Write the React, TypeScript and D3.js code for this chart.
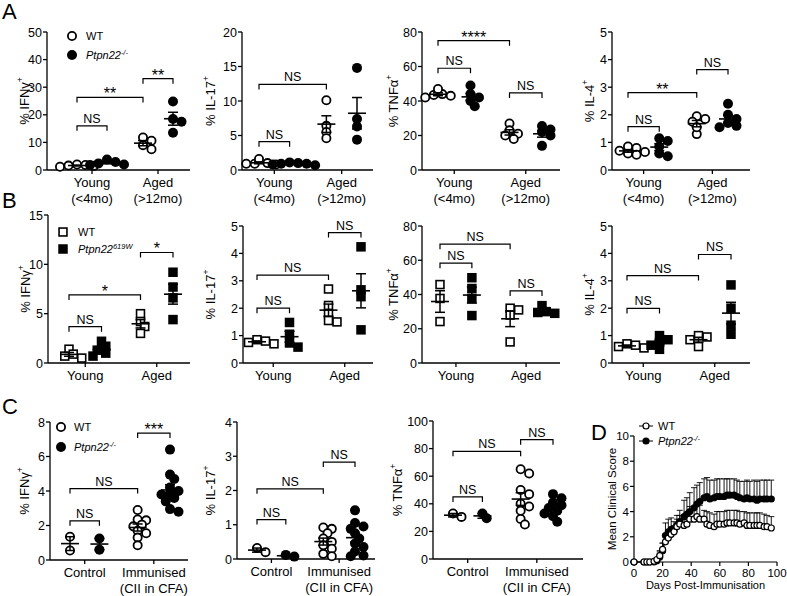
import React from "react";
import * as d3 from "d3";

const FONT = "Arial, 'Liberation Sans', Helvetica, sans-serif";

// ---------- labels ----------
const ageCats = ["Young", "Aged"];
const ageSubs = ["(<4mo)", "(>12mo)"];
const immCats = ["Control", "Immunised"];
const immSubs = ["", "(CII in CFA)"];
const legWT = "WT";
const legKO = "Ptpn22";
const legKOsup = "-/-";
const legPEPsup = "619W";

// ---------- Panel A : [WT young, KO young, WT aged, KO aged] ----------
const aIfng = [[1.2, 1.5, 1.8, 2.0, 1.6], [1.8, 2.0, 2.4, 2.9, 3.8], [11.8, 10.6, 9.0, 7.5], [24.8, 18.5, 17.5, 13.5]];
const aIl17 = [[0.9, 1.0, 0.8, 1.6, 0.9], [0.8, 0.9, 0.7, 1.0, 0.9, 1.1], [10.1, 6.4, 5.5, 4.6], [14.8, 7.4, 6.3, 4.4]];
const aTnfa = [[43.5, 42, 44, 47, 43], [49, 44, 42, 40, 37], [27, 23, 21, 20, 18], [25.5, 23.5, 22, 20, 14]];
const aIl4 = [[0.8, 0.65, 0.6, 0.85, 0.7, 0.55], [1.15, 1.05, 0.85, 0.6, 0.5], [1.95, 1.85, 1.75, 1.3, 1.55], [2.4, 2.0, 1.85, 1.7, 1.6, 1.55]];
const aIfngBr: [number, number, number, string][] = [[0, 1, 16, "NS"], [0, 2, 26.3, "**"], [2, 3, 33.1, "**"]];
const aIl17Br: [number, number, number, string][] = [[0, 1, 4.1, "NS"], [0, 2, 12.4, "NS"]];
const aTnfaBr: [number, number, number, string][] = [[0, 1, 59, "NS"], [0, 2, 75, "****"], [2, 3, 44.7, "NS"]];
const aIl4Br: [number, number, number, string][] = [[0, 1, 1.57, "NS"], [0, 2, 2.8, "**"], [2, 3, 3.64, "NS"]];
const aIfngTicks = [0, 10, 20, 30, 40, 50];
const aIl17Ticks = [0, 5, 10, 15, 20];
const aTnfaTicks = [0, 20, 40, 60, 80];
const aIl4Ticks = [0, 1, 2, 3, 4, 5];

// ---------- Panel B ----------
const bIfng = [[1.4, 0.7, 0.5, 0.9], [2.2, 1.7, 1.3, 1.0, 0.7], [5.0, 4.2, 3.7, 3.0], [9.2, 7.7, 6.6, 4.4]];
const bIl17 = [[0.85, 0.8, 0.7, 0.75], [1.48, 1.05, 0.73, 0.58], [2.7, 2.1, 1.8, 1.55, 1.5], [4.24, 2.67, 2.42, 1.21]];
const bTnfa = [[45.8, 37.7, 24.2], [49.8, 43.5, 37.7, 27.7], [31, 32, 28, 12.3], [33.5, 30, 29, 29.5]];
const bIl4 = [[0.7, 0.6, 0.55, 0.65], [1.0, 0.85, 0.75, 0.65, 0.5], [0.95, 1.0, 0.85, 0.6], [2.85, 2.0, 1.38, 1.05]];
const bIfngBr: [number, number, number, string][] = [[0, 1, 3.68, "NS"], [0, 2, 6.9, "*"], [2, 3, 11.2, "*"]];
const bIl17Br: [number, number, number, string][] = [[0, 1, 2.0, "NS"], [0, 2, 3.21, "NS"], [2, 3, 4.76, "NS"]];
const bTnfaBr: [number, number, number, string][] = [[0, 1, 58.3, "NS"], [0, 2, 69.4, "NS"], [2, 3, 42.1, "NS"]];
const bIl4Br: [number, number, number, string][] = [[0, 1, 1.99, "NS"], [0, 2, 3.19, "NS"], [2, 3, 3.96, "NS"]];
const bIfngTicks = [0, 5, 10, 15];
const bIl17Ticks = [0, 1, 2, 3, 4, 5];
const bTnfaTicks = [0, 20, 40, 60, 80];
const bIl4Ticks = [0, 1, 2, 3, 4, 5];

// ---------- Panel C : [WT control, KO control, WT immunised, KO immunised] ----------
const cIfng = [[1.35, 0.55], [1.25, 0.6], [2.9, 2.35, 2.3, 2.05, 1.95, 1.7, 1.55, 1.3, 0.85], [6.4, 4.95, 4.7, 4.2, 4.0, 3.85, 3.8, 3.6, 3.4, 2.95, 2.8]];
const cIl17 = [[0.2, 0.32], [0.07, 0.12], [0.92, 0.88, 0.75, 0.6, 0.5, 0.4, 0.3, 0.15, 0.08], [1.42, 1.05, 0.95, 0.88, 0.75, 0.6, 0.45, 0.35, 0.22, 0.1, 0.08]];
const cTnfa = [[30.5, 33], [29.5, 33], [65, 62, 50, 47, 40, 38, 35, 29, 25], [47, 44, 41, 39, 37, 35, 33, 31, 27]];
const cIfngBr: [number, number, number, string][] = [[0, 1, 2.27, "NS"], [0, 2, 4.14, "NS"], [2, 3, 7.36, "***"]];
const cIl17Br: [number, number, number, string][] = [[0, 1, 1.15, "NS"], [0, 2, 2.05, "NS"], [2, 3, 2.83, "NS"]];
const cTnfaBr: [number, number, number, string][] = [[0, 1, 45, "NS"], [0, 2, 78, "NS"], [2, 3, 86.5, "NS"]];
const cIfngTicks = [0, 2, 4, 6, 8];
const cIl17Ticks = [0, 1, 2, 3, 4];
const cTnfaTicks = [0, 20, 40, 60, 80, 100];

// ---------- Panel D ----------
const dDays = [0, 7, 9, 11, 14, 16, 18, 20, 22, 24, 26, 28, 30, 32, 35, 37, 39, 42, 44, 46, 49, 51, 53, 56, 58, 60, 63, 65, 67, 70, 72, 74, 77, 79, 81, 84, 86, 88, 91, 93, 96];
const dWT = [0, 0, 0, 0, 0.05, 0.2, 0.5, 1.0, 1.6, 1.9, 2.2, 2.4, 2.8, 3.0, 2.9, 3.0, 3.4, 3.4, 3.6, 3.4, 3.4, 3.0, 2.9, 2.8, 3.0, 3.0, 3.0, 3.1, 3.1, 3.1, 3.1, 3.0, 3.1, 2.9, 2.9, 2.9, 2.9, 2.9, 2.8, 2.8, 2.7];
const dWTerr = [0, 0, 0, 0, 0, 0.1, 0.3, 0.5, 0.6, 0.5, 0.5, 0.5, 0.6, 0.7, 0.8, 0.9, 1.0, 1.0, 0.9, 1.1, 0.7, 1.0, 1.0, 1.0, 1.0, 1.0, 1.0, 1.0, 1.0, 1.0, 1.0, 1.0, 0.9, 1.0, 1.0, 1.0, 1.0, 1.0, 1.0, 0.9, 0.9];
const dKO = [0, 0, 0, 0, 0, 0.1, 0.4, 0.9, 2.1, 2.4, 2.6, 2.5, 2.9, 3.2, 3.6, 3.8, 4.0, 4.3, 4.6, 4.8, 5.1, 5.2, 5.0, 5.1, 5.2, 5.2, 5.2, 5.3, 5.3, 5.3, 5.2, 5.1, 5.0, 5.1, 5.0, 5.0, 4.9, 5.0, 5.0, 5.0, 5.0];
const dKOerr = [0, 0, 0, 0, 0, 0.1, 0.5, 0.6, 1.0, 1.0, 0.9, 0.7, 0.8, 0.9, 1.3, 1.3, 1.5, 1.6, 1.5, 1.5, 1.5, 1.5, 1.5, 1.4, 1.4, 1.4, 1.4, 1.3, 1.3, 1.3, 1.3, 1.3, 1.4, 1.4, 1.4, 1.5, 1.5, 1.5, 1.5, 1.5, 1.5];
const dXTicks = [0, 20, 40, 60, 80, 100];
const dYTicks = [0, 2, 4, 6, 8, 10];

type Br = [number, number, number, string];
type Panel = {
  data: number[][];
  br: Br[];
  ticks: number[];
  title: string;
  axX: number; axEnd: number; yTop: number; yBot: number;
  p0: number; p3: number; units: number[];
  titleX: number;
  shape: "circle" | "square";
  cats: string[]; subs: string[];
};

const U_AGE = [0, 1, 2.2, 3.2];
const U_IMM = [0, 1, 2.3, 3.4];

const panels: Panel[] = [
  { data: aIfng, br: aIfngBr, ticks: aIfngTicks, title: "% IFNγ", axX: 47, axEnd: 190, yTop: 32, yBot: 170, p0: 77, p3: 173, units: U_AGE, titleX: 24, shape: "circle", cats: ageCats, subs: ageSubs },
  { data: aIl17, br: aIl17Br, ticks: aIl17Ticks, title: "% IL-17", axX: 242, axEnd: 373, yTop: 32, yBot: 170, p0: 259, p3: 357, units: U_AGE, titleX: 210, shape: "circle", cats: ageCats, subs: ageSubs },
  { data: aTnfa, br: aTnfaBr, ticks: aTnfaTicks, title: "% TNFα", axX: 422, axEnd: 560, yTop: 32, yBot: 170, p0: 438, p3: 542, units: U_AGE, titleX: 393, shape: "circle", cats: ageCats, subs: ageSubs },
  { data: aIl4, br: aIl4Br, ticks: aIl4Ticks, title: "% IL-4", axX: 612, axEnd: 750, yTop: 32, yBot: 170, p0: 628, p3: 728, units: U_AGE, titleX: 589, shape: "circle", cats: ageCats, subs: ageSubs },
  { data: bIfng, br: bIfngBr, ticks: bIfngTicks, title: "% IFNγ", axX: 48, axEnd: 190, yTop: 215, yBot: 363, p0: 69, p3: 173, units: U_AGE, titleX: 25, shape: "square", cats: ageCats, subs: [] },
  { data: bIl17, br: bIl17Br, ticks: bIl17Ticks, title: "% IL-17", axX: 243, axEnd: 373, yTop: 226, yBot: 363, p0: 257, p3: 361, units: U_AGE, titleX: 210, shape: "square", cats: ageCats, subs: [] },
  { data: bTnfa, br: bTnfaBr, ticks: bTnfaTicks, title: "% TNFα", axX: 422, axEnd: 560, yTop: 226, yBot: 363, p0: 440, p3: 542, units: U_AGE, titleX: 393, shape: "square", cats: ageCats, subs: [] },
  { data: bIl4, br: bIl4Br, ticks: bIl4Ticks, title: "% IL-4", axX: 612, axEnd: 750, yTop: 226, yBot: 363, p0: 627, p3: 731, units: U_AGE, titleX: 589, shape: "square", cats: ageCats, subs: [] },
  { data: cIfng, br: cIfngBr, ticks: cIfngTicks, title: "% IFNγ", axX: 50, axEnd: 188, yTop: 422, yBot: 560, p0: 70, p3: 170, units: U_IMM, titleX: 24, shape: "circle", cats: immCats, subs: immSubs },
  { data: cIl17, br: cIl17Br, ticks: cIl17Ticks, title: "% IL-17", axX: 237, axEnd: 375, yTop: 422, yBot: 559, p0: 257, p3: 355, units: U_IMM, titleX: 210, shape: "circle", cats: immCats, subs: immSubs },
  { data: cTnfa, br: cTnfaBr, ticks: cTnfaTicks, title: "% TNFα", axX: 433, axEnd: 583, yTop: 421, yBot: 559, p0: 453, p3: 553, units: U_IMM, titleX: 397, shape: "circle", cats: immCats, subs: immSubs },
];

// placement of points in a column, deterministic beeswarm
function swarm(vals: number[], y: (v: number) => number, r: number) {
  const placed: { dx: number; py: number }[] = [];
  const out: { dx: number; py: number }[] = new Array(vals.length);
  const order = vals.map((_, i) => i).sort((a, b) => vals[b] - vals[a]);
  const step = r * 0.85;
  for (const i of order) {
    const py = y(vals[i]);
    const cands = [0];
    for (let k = 1; k < 10; k++) cands.push(k * step, -k * step);
    let chosen = cands[cands.length - 1];
    for (const dx of cands) {
      if (placed.every((p) => Math.hypot(p.dx - dx, p.py - py) >= 2 * r * 0.6)) { chosen = dx; break; }
    }
    out[i] = { dx: chosen, py };
    placed.push({ dx: chosen, py });
  }
  return out;
}

function Marker({ shape, filled, x, y, r }: { shape: string; filled: boolean; x: number; y: number; r: number }) {
  if (shape === "circle") {
    return filled ? <circle cx={x} cy={y} r={r} fill="#000" /> : <circle cx={x} cy={y} r={r - 0.9} fill="#fff" stroke="#000" strokeWidth={1.8} />;
  }
  const s = filled ? r * 1.9 : r * 1.9 - 1.6;
  return <rect x={x - s / 2} y={y - s / 2} width={s} height={s} fill={filled ? "#000" : "#fff"} stroke="#000" strokeWidth={filled ? 0 : 1.6} />;
}

function Scatter({ p }: { p: Panel }) {
  const y = d3.scaleLinear().domain([0, p.ticks[p.ticks.length - 1]]).range([p.yBot, p.yTop]);
  const x = d3.scaleLinear().domain([0, p.units[3]]).range([p.p0, p.p3]);
  const r = 5;
  const catX = [(x(p.units[0]) + x(p.units[1])) / 2, (x(p.units[2]) + x(p.units[3])) / 2];
  return (
    <g>
      <line x1={p.axX} x2={p.axX} y1={p.yTop} y2={p.yBot} stroke="#000" strokeWidth={1.3} />
      <line x1={p.axX} x2={p.axEnd} y1={p.yBot} y2={p.yBot} stroke="#000" strokeWidth={1.3} />
      {p.ticks.map((t) => (
        <g key={t}>
          <line x1={p.axX - 4} x2={p.axX} y1={y(t)} y2={y(t)} stroke="#000" strokeWidth={1.3} />
          <text x={p.axX - 5} y={y(t)} dy="0.36em" textAnchor="end" fontSize={12.5}>{t}</text>
        </g>
      ))}
      {catX.map((cx, i) => (
        <g key={i}>
          <line x1={cx} x2={cx} y1={p.yBot} y2={p.yBot + 4} stroke="#000" strokeWidth={1.3} />
          <text x={cx} y={p.yBot + 17} textAnchor="middle" fontSize={13}>{p.cats[i]}</text>
          {p.subs[i] ? <text x={cx} y={p.yBot + 33} textAnchor="middle" fontSize={13}>{p.subs[i]}</text> : null}
        </g>
      ))}
      <text transform={`translate(${p.titleX},${(p.yTop + p.yBot) / 2}) rotate(-90)`} textAnchor="middle" fontSize={13} dy="0.35em">
        {p.title}
        <tspan dy={-6} fontSize={8.5}>+</tspan>
      </text>
      {p.data.map((vals, gi) => {
        const cx = x(p.units[gi]);
        const filled = gi % 2 === 1;
        const pts = swarm(vals, y, r);
        const m = d3.mean(vals)!;
        const sem = (d3.deviation(vals) || 0) / Math.sqrt(vals.length);
        return (
          <g key={gi}>
            {pts.map((pt, k) => <Marker key={k} shape={p.shape} filled={filled} x={cx + pt.dx} y={pt.py} r={r} />)}
            <line x1={cx} x2={cx} y1={y(m - sem)} y2={y(m + sem)} stroke="#000" strokeWidth={1.5} />
            <line x1={cx - 5} x2={cx + 5} y1={y(m - sem)} y2={y(m - sem)} stroke="#000" strokeWidth={1.5} />
            <line x1={cx - 5} x2={cx + 5} y1={y(m + sem)} y2={y(m + sem)} stroke="#000" strokeWidth={1.5} />
            <line x1={cx - 9} x2={cx + 9} y1={y(m)} y2={y(m)} stroke="#000" strokeWidth={1.6} />
          </g>
        );
      })}
      {p.br.map(([a, b, v, lab], i) => {
        const xa = x(p.units[a]);
        const xb = x(p.units[b]);
        const yy = y(v);
        const star = lab.startsWith("*");
        return (
          <g key={i}>
            <path d={`M${xa},${yy + 5}V${yy}H${xb}V${yy + 5}`} fill="none" stroke="#000" strokeWidth={1.2} />
            <text x={(xa + xb) / 2} y={star ? yy + 2 : yy - 3} textAnchor="middle" fontSize={star ? 16 : 12.5}>{lab}</text>
          </g>
        );
      })}
    </g>
  );
}

function Legend({ x, y1, y2, shape, sup, tx }: { x: number; y1: number; y2: number; shape: string; sup: string; tx: number }) {
  return (
    <g fontSize={11}>
      <Marker shape={shape} filled={false} x={x} y={y1} r={5} />
      <text x={tx} y={y1} dy="0.36em">{legWT}</text>
      <Marker shape={shape} filled={true} x={x} y={y2} r={5} />
      <text x={tx} y={y2} dy="0.36em" fontStyle="italic">
        {legKO}
        <tspan dy={-4} fontSize={7.5}>{sup}</tspan>
      </text>
    </g>
  );
}

function PanelD() {
  const x = d3.scaleLinear().domain([0, 100]).range([634, 777]);
  const y = d3.scaleLinear().domain([0, 10]).range([562, 436]);
  const r = 3.6;
  const line = d3.line<number>().x((_, i) => x(dDays[i])).y((v) => y(v));
  const series = [
    { v: dKO, e: dKOerr, filled: true },
    { v: dWT, e: dWTerr, filled: false },
  ];
  return (
    <g>
      <line x1={x(0)} x2={x(0)} y1={y(10)} y2={y(0)} stroke="#000" strokeWidth={1.2} />
      <line x1={x(0)} x2={x(100)} y1={y(0)} y2={y(0)} stroke="#000" strokeWidth={1.2} />
      {dYTicks.map((t) => (
        <g key={t}>
          <line x1={x(0) - 4} x2={x(0)} y1={y(t)} y2={y(t)} stroke="#000" strokeWidth={1.2} />
          <text x={x(0) - 5} y={y(t)} dy="0.36em" textAnchor="end" fontSize={11.5}>{t}</text>
        </g>
      ))}
      {dXTicks.map((t) => (
        <g key={t}>
          <line x1={x(t)} x2={x(t)} y1={y(0)} y2={y(0) + 4} stroke="#000" strokeWidth={1.2} />
          <text x={x(t)} y={y(0) + 15} textAnchor="middle" fontSize={11.5}>{t}</text>
        </g>
      ))}
      <text x={(x(0) + x(100)) / 2} y={y(0) + 27} textAnchor="middle" fontSize={11}>Days Post-Immunisation</text>
      <text transform={`translate(612,${(y(0) + y(10)) / 2}) rotate(-90)`} textAnchor="middle" fontSize={11.5} dy="0.35em">Mean Clinical Score</text>
      {series.map((s, si) => (
        <g key={"e" + si}>
          {s.v.map((v, i) =>
            s.e[i] > 0 ? (
              <g key={i}>
                <line x1={x(dDays[i])} x2={x(dDays[i])} y1={y(v)} y2={y(v + s.e[i])} stroke="#000" strokeWidth={0.9} />
                <line x1={x(dDays[i]) - 3} x2={x(dDays[i]) + 3} y1={y(v + s.e[i])} y2={y(v + s.e[i])} stroke="#000" strokeWidth={0.9} />
              </g>
            ) : null
          )}
        </g>
      ))}
      {series.map((s, si) => (
        <g key={"p" + si}>
          <path d={line(s.v) || ""} fill="none" stroke="#000" strokeWidth={1} />
          {s.v.map((v, i) =>
            s.filled ? <circle key={i} cx={x(dDays[i])} cy={y(v)} r={r} fill="#000" /> : <circle key={i} cx={x(dDays[i])} cy={y(v)} r={r - 0.6} fill="#fff" stroke="#000" strokeWidth={1.2} />
          )}
        </g>
      ))}
      <g fontSize={11}>
        <line x1={639} x2={653} y1={426} y2={426} stroke="#000" strokeWidth={1} />
        <circle cx={646} cy={426} r={r - 0.6} fill="#fff" stroke="#000" strokeWidth={1.2} />
        <text x={658} y={426} dy="0.36em">{legWT}</text>
        <line x1={639} x2={653} y1={441} y2={441} stroke="#000" strokeWidth={1} />
        <circle cx={646} cy={441} r={r} fill="#000" />
        <text x={658} y={441} dy="0.36em" fontStyle="italic">
          {legKO}
          <tspan dy={-4} fontSize={7.5}>{legKOsup}</tspan>
        </text>
      </g>
    </g>
  );
}

export default function App() {
  return (
    <svg width={787} height={596} style={{ position: "absolute", left: 0, top: 0, background: "#fff" }} fontFamily={FONT}>
      <rect width={787} height={596} fill="#fff" />
      <text x={2} y={19} fontSize={22}>A</text>
      <text x={2} y={208} fontSize={22}>B</text>
      <text x={2} y={414} fontSize={22}>C</text>
      <text x={591} y={440} fontSize={22}>D</text>
      {panels.map((p, i) => <Scatter key={i} p={p} />)}
      <Legend x={72} y1={36} y2={55} shape="circle" sup={legKOsup} tx={86} />
      <Legend x={63} y1={232} y2={249} shape="square" sup={legPEPsup} tx={78} />
      <Legend x={61} y1={427} y2={447} shape="circle" sup={legKOsup} tx={74} />
      <PanelD />
    </svg>
  );
}
